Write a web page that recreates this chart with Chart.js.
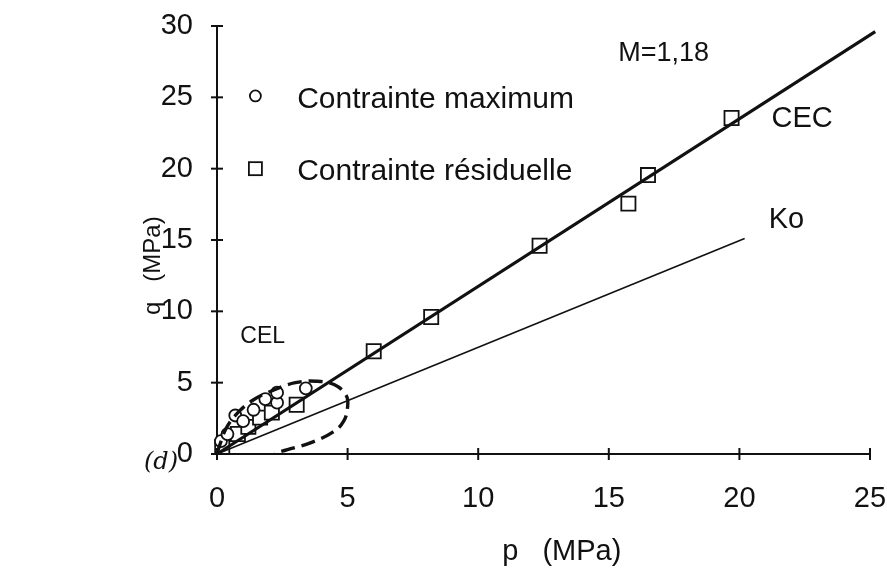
<!doctype html>
<html>
<head>
<meta charset="utf-8">
<title>q - p (MPa)</title>
<script src="https://cdn.jsdelivr.net/npm/chart.js@4/dist/chart.umd.min.js"></script>
<style>
  html, body { margin: 0; padding: 0; background: #fff; }
</style>
</head>
<body>
<canvas id="myChart" width="887" height="574"></canvas>
<script>
  // values (p, q in MPa)
  const xTicks = [0, 5, 10, 15, 20, 25];
  const yTicks = [0, 5, 10, 15, 20, 25, 30];

  const cecP = [0, 25.2];
  const cecQ = [0, 29.6];

  const koP = [0, 20.2];
  const koQ = [0, 15.1];

  const celP = [0, 0.1, 0.35, 0.8, 1.4, 2.2, 3.0, 3.8, 4.5, 4.95, 5.0, 4.85, 4.45, 3.6, 2.7, 2.2];
  const celQ = [0, 0.6, 1.8, 2.9, 3.8, 4.5, 5.0, 5.1, 4.85, 4.1, 3.3, 2.3, 1.55, 0.8, 0.3, 0.05];

  const maxP = [0.15, 0.4, 0.7, 1.0, 1.4, 1.85, 2.3, 2.3, 3.4];
  const maxQ = [0.9, 1.4, 2.7, 2.3, 3.1, 3.85, 3.6, 4.3, 4.6];

  const resP = [0.2, 0.8, 1.2, 1.65, 2.1, 3.05, 6.0, 8.2, 12.35, 15.75, 16.5, 19.7];
  const resQ = [0.5, 1.4, 1.9, 2.55, 2.9, 3.45, 7.2, 9.6, 14.6, 17.55, 19.55, 23.55];

  const zip = (xs, ys) => xs.map((v, i) => ({x: v, y: ys[i]}));

  const INK = '#111';
  const FONT = '"Liberation Sans", Arial, sans-serif';

  // small marks crossing both axes, and the texts of the figure
  const figureText = {
    id: 'figureText',
    afterDraw(chart) {
      const c = chart.ctx;
      const sx = chart.scales.x, sy = chart.scales.y;
      const x0 = sx.getPixelForValue(0), y0 = sy.getPixelForValue(0);
      c.save();
      c.strokeStyle = INK;
      c.lineWidth = 2;
      xTicks.forEach(v => {
        const px = sx.getPixelForValue(v);
        c.beginPath(); c.moveTo(px, y0 - 6); c.lineTo(px, y0 + 6); c.stroke();
      });
      yTicks.forEach(v => {
        const py = sy.getPixelForValue(v);
        c.beginPath(); c.moveTo(x0 - 6, py); c.lineTo(x0 + 6, py); c.stroke();
      });

      c.fillStyle = INK;
      c.textBaseline = 'middle';
      const txt = (s, p, q, size, align) => {
        c.font = size + 'px ' + FONT;
        c.textAlign = align || 'left';
        c.fillText(s, sx.getPixelForValue(p), sy.getPixelForValue(q));
      };
      txt('M=1,18', 17.1, 28.1, 27, 'center');
      txt('CEC', 22.4, 23.5, 29, 'center');
      txt('Ko', 21.8, 16.4, 29, 'center');
      txt('CEL', 1.75, 8.2, 23, 'center');
      txt('Contrainte maximum', 3.07, 24.8, 30);
      txt('Contrainte résiduelle', 3.07, 19.8, 30);

      // legend markers
      c.lineWidth = 1.8;
      c.fillStyle = '#fff';
      let px = sx.getPixelForValue(1.47), py = sy.getPixelForValue(25.1);
      c.beginPath(); c.arc(px, py, 5.5, 0, Math.PI * 2); c.fill(); c.stroke();
      py = sy.getPixelForValue(20.0);
      c.fillRect(px - 6.5, py - 6.5, 13, 13);
      c.strokeRect(px - 6.5, py - 6.5, 13, 13);

      // axis titles
      c.fillStyle = INK;
      c.font = '29px ' + FONT;
      c.textAlign = 'center';
      c.fillText('p   (MPa)', sx.getPixelForValue(13.2), y0 + 98);
      c.save();
      c.font = '24px ' + FONT;
      c.translate(x0 - 64, sy.getPixelForValue(13.2));
      c.rotate(-Math.PI / 2);
      c.fillText('q   (MPa)', 0, 0);
      c.restore();

      c.font = 'italic 24px "DejaVu Serif", serif';
      c.fillText('(d)', x0 - 56, y0 + 9);
      c.restore();
    }
  };

  const ctx = document.getElementById('myChart').getContext('2d');
  const myChart = new Chart(ctx, {
    type: 'scatter',
    data: {
      datasets: [
        {
          label: 'CEC',
          data: zip(cecP, cecQ),
          showLine: true,
          borderColor: INK,
          borderWidth: 3.2,
          pointRadius: 0,
          clip: false,
        },
        {
          label: 'Ko',
          data: zip(koP, koQ),
          showLine: true,
          borderColor: INK,
          borderWidth: 1.6,
          pointRadius: 0,
          clip: false,
        },
        {
          label: 'CEL',
          data: zip(celP, celQ),
          showLine: true,
          borderColor: INK,
          borderWidth: 3.4,
          borderDash: [14, 7],
          tension: 0.4,
          pointRadius: 0,
          clip: false,
        },
        {
          label: 'Contrainte maximum',
          data: zip(maxP, maxQ),
          pointStyle: 'circle',
          pointRadius: 6,
          pointBorderWidth: 1.8,
          pointBorderColor: INK,
          pointBackgroundColor: '#fff',
          clip: false,
        },
        {
          label: 'Contrainte résiduelle',
          data: zip(resP, resQ),
          pointStyle: 'rect',
          pointRadius: 10,
          pointBorderWidth: 1.8,
          pointBorderColor: INK,
          pointBackgroundColor: '#fff',
          clip: false,
        },
      ]
    },
    options: {
      responsive: false,
      animation: false,
      layout: { padding: { top: 26, right: 17, left: 0, bottom: 0 } },
      scales: {
        x: {
          type: 'linear',
          min: 0,
          max: 25,
          afterFit: (scale) => {
            scale.height = 120;
            scale.paddingLeft = 0;
            scale.paddingRight = 0;
          },
          afterBuildTicks: (scale) => { scale.ticks = xTicks.map(v => ({value: v})); },
          border: { color: INK, width: 2 },
          grid: { display: false },
          ticks: { color: INK, padding: 20, font: { family: FONT, size: 29 } },
        },
        y: {
          type: 'linear',
          min: 0,
          max: 30,
          afterFit: (scale) => {
            scale.width = 217;
            scale.paddingTop = 0;
            scale.paddingBottom = 0;
          },
          afterBuildTicks: (scale) => { scale.ticks = yTicks.map(v => ({value: v})); },
          border: { color: INK, width: 2 },
          grid: { display: false },
          ticks: { color: INK, padding: 16, font: { family: FONT, size: 29 } },
        }
      },
      plugins: {
        legend: { display: false },
        tooltip: { enabled: false },
      }
    },
    plugins: [figureText]
  });
</script>
</body>
</html>
